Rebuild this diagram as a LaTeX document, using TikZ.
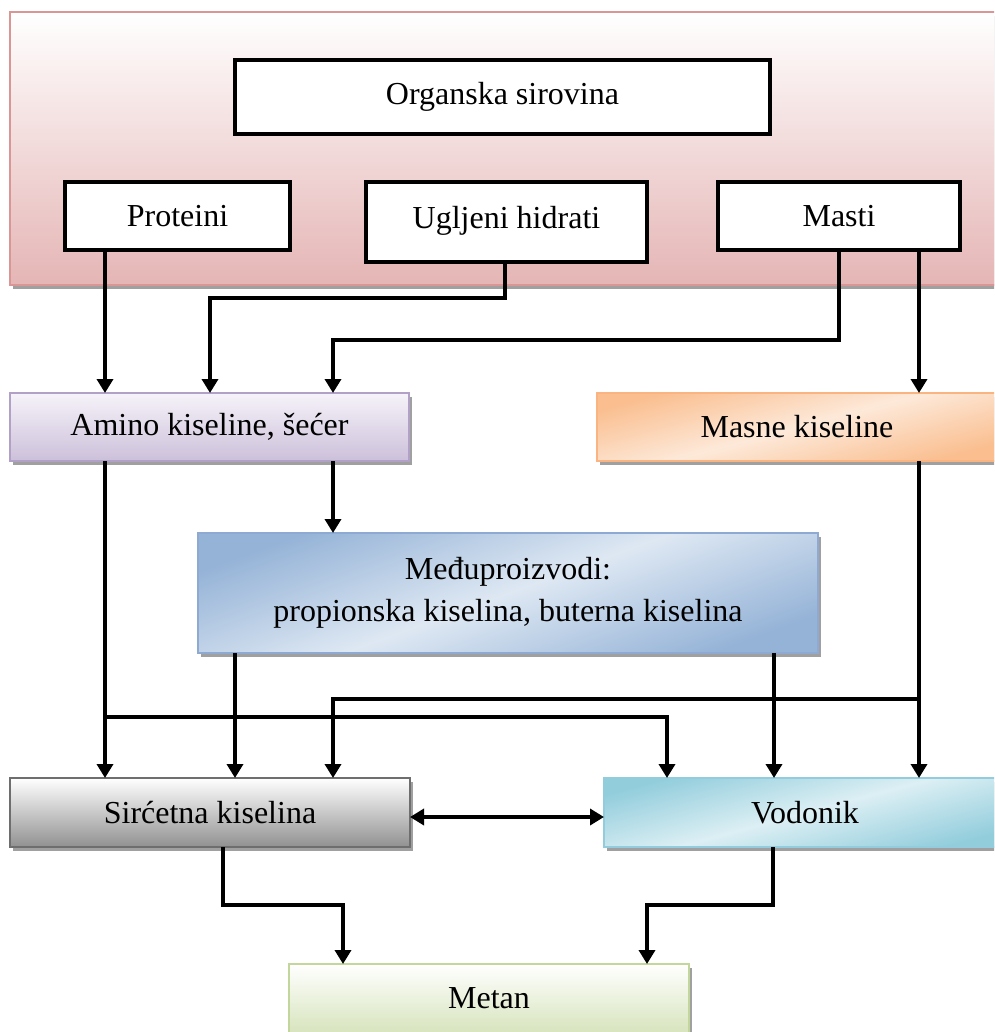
\documentclass[tikz,border=0pt]{standalone}
\usepackage{fontspec}
\setmainfont{Liberation Serif}
\usetikzlibrary{arrows.meta,shadows}

% box fills and outlines
\definecolor{pinkbot}{RGB}{229,181,181}
\definecolor{pinkline}{RGB}{217,150,148}
\definecolor{lavtop}{RGB}{246,243,249}
\definecolor{lavbot}{RGB}{204,192,218}
\definecolor{lavline}{RGB}{178,161,199}
\definecolor{orangedk}{RGB}{250,190,143}
\definecolor{orangelt}{RGB}{253,233,217}
\definecolor{orangeline}{RGB}{249,180,130}
\definecolor{bluedk}{RGB}{149,179,215}
\definecolor{bluelt}{RGB}{222,232,243}
\definecolor{blueline}{RGB}{142,170,210}
\definecolor{graybot}{RGB}{145,145,145}
\definecolor{grayline}{RGB}{110,110,110}
\definecolor{cyandk}{RGB}{146,205,220}
\definecolor{cyanlt}{RGB}{220,239,244}
\definecolor{cyanline}{RGB}{147,205,221}
\definecolor{greenbot}{RGB}{215,228,189}
\definecolor{greenline}{RGB}{195,214,155}
\definecolor{shade}{RGB}{160,160,160}

\begin{document}
\begin{tikzpicture}[x=1pt,y=-1pt,
  every node/.style={font=\fontsize{32}{42}\selectfont, inner sep=0pt, outer sep=0pt, align=center},
  plainbox/.style={draw=black, line width=3.5pt, fill=white},
  softbox/.style={draw=#1, line width=2pt,
    general shadow={fill=shade, shadow xshift=3pt, shadow yshift=-4pt}},
  link/.style={line width=3.5pt},
  arr/.style={link, -{Triangle[length=14pt,width=16pt]}},
  dblarr/.style={link, {Triangle[length=14pt,width=16pt]}-{Triangle[length=14pt,width=16pt]}},
]
\fill[white] (0,0) rectangle (994,1032);
\useasboundingbox (0,0) rectangle (994,1032);
\clip (0,0) rectangle (994,1032);

% raw material band
\node[softbox=pinkline, top color=white, bottom color=pinkbot,
      minimum width=1000pt, minimum height=273pt] (raw) at (510,148.5) {};

% source boxes
\node[plainbox, minimum width=535pt, minimum height=74pt] (org) at (502.5,97) {Organska sirovina};
\node[plainbox, minimum width=225pt, minimum height=68pt] (prot) at (177.5,216) {Proteini};
\node[plainbox, minimum width=281pt, minimum height=80pt] (ugl) at (506.5,222) {\raisebox{9pt}{Ugljeni hidrati}};
\node[plainbox, minimum width=242pt, minimum height=68pt] (masti) at (839,216) {Masti};

% intermediate stages
\node[softbox=lavline, top color=lavtop, bottom color=lavbot,
      minimum width=399pt, minimum height=68pt] (amino) at (209.5,427) {Amino kiseline, šećer};
\node[softbox=orangeline, shading=axis, top color=orangedk, bottom color=orangedk, middle color=orangelt,
      shading angle=15, minimum width=400pt, minimum height=68pt] (masne) at (797,427) {Masne kiseline};
\node[softbox=blueline, shading=axis, top color=bluedk, bottom color=bluedk, middle color=bluelt,
      shading angle=20, minimum width=620pt, minimum height=120pt] (medj) at (508,593)
      {Međuproizvodi:\\propionska kiselina, buterna kiselina};
\node[softbox=grayline, top color=white, bottom color=graybot,
      minimum width=400pt, minimum height=69pt] (sirc) at (210,812.5) {Sirćetna kiselina};
\node[softbox=cyanline, shading=axis, top color=cyandk, bottom color=cyandk, middle color=cyanlt,
      shading angle=15, minimum width=402pt, minimum height=69pt] (vod) at (805,812.5) {Vodonik};
\node[softbox=greenline, top color=white, bottom color=greenbot,
      minimum width=400pt, minimum height=69pt] (metan) at (489,998.5) {Metan};

% branch points on the long vertical runs
\coordinate (j1) at (105,717);
\coordinate (j2) at (919,699);

% flows
\draw[arr] ([xshift=40pt]prot.south west) -- ([xshift=95pt]amino.north west);
\draw[arr] ([xshift=-1.5pt]ugl.south) -- ++(0,36) -| ([xshift=200pt]amino.north west);
\draw[arr] (masti.south) -- ++(0,90) -| ([xshift=323pt]amino.north west);
\draw[arr] ([xshift=80pt]masti.south) -- ([xshift=322pt]masne.north west);
\draw[arr] ([xshift=95pt]amino.south west) -- ([xshift=95pt]sirc.north west);
\draw[arr] ([xshift=323pt]amino.south west) -- ([xshift=135pt]medj.north west);
\draw[arr] ([xshift=37pt]medj.south west) -- ([xshift=225pt]sirc.north west);
\draw[arr] ([xshift=576pt]medj.south west) -- ([xshift=170pt]vod.north west);
\draw[arr] ([xshift=322pt]masne.south west) -- ([xshift=315pt]vod.north west);
\draw[arr] (j1) -| ([xshift=63pt]vod.north west);
\draw[arr] (j2) -| ([xshift=323pt]sirc.north west);
\draw[dblarr] ([yshift=-4.5pt]sirc.east) -- ([yshift=-4.5pt]vod.west);
\draw[arr] ([xshift=213pt]sirc.south west) -- ++(0,58) -| ([xshift=54pt]metan.north west);
\draw[arr] ([xshift=169pt]vod.south west) -- ++(0,58) -| ([xshift=358pt]metan.north west);
\end{tikzpicture}
\end{document}
